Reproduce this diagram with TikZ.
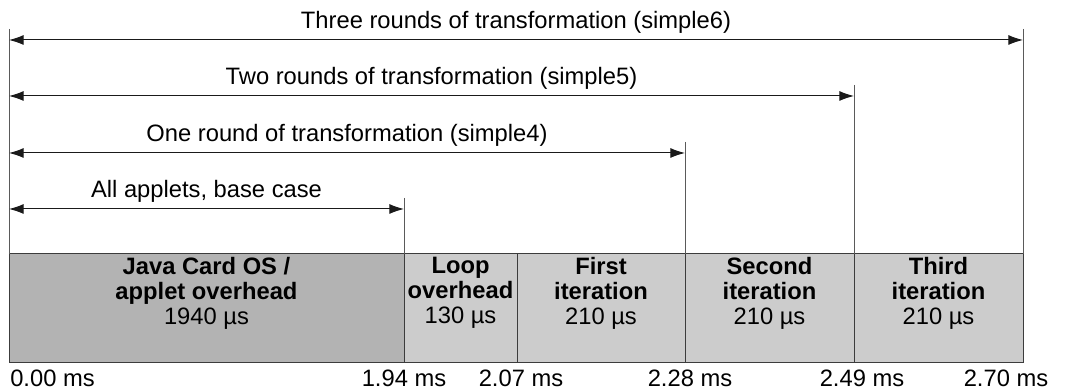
\documentclass[tikz,border=0pt]{standalone}
\usepackage{fontspec}
\setmainfont{Liberation Sans}
\usetikzlibrary{positioning,arrows.meta}
\definecolor{ink}{HTML}{1A1A1A}
\definecolor{osgray}{HTML}{B3B3B3}
\definecolor{itgray}{HTML}{CCCCCC}
\definecolor{rulegray}{HTML}{5A5A5A}
\newcommand{\hd}{\bfseries}

\begin{document}
\begin{tikzpicture}[x=0.75pt, y=0.75pt, font=\fontsize{17.8}{19}\selectfont,
  >={Latex[length=11pt, width=7.5pt]},
  blk/.style={draw=ink!85, fill=#1, minimum height=81.75pt, anchor=south west,
              inner sep=0pt, outer sep=0pt, line width=0.75pt},
  blk/.default=itgray,
  txt/.style={align=center, inner sep=1pt},
  tick/.style={draw=rulegray, line width=0.75pt},
  span/.style={<->, draw=ink, line width=0.75pt},
  lbl/.style={inner sep=0pt, anchor=base}]
\useasboundingbox (0,0) rectangle (1068,391);
% -- time line blocks
\foreach \nm/\xa/\xb/\c in {os/9/404/osgray, loop/404/517/itgray, it1/517/685/itgray,
                            it2/685/854/itgray, it3/854/1023/itgray}
  \node[blk=\c, minimum width={(\xb-\xa)*0.75pt}] (\nm) at (\xa,28) {};
\node[txt, below=1pt of os.north] {{\hd Java Card OS /}\\{\hd applet overhead}\\1940 µs};
\node[txt, below=1pt of loop.north] {{\hd Loop}\\{\hd overhead}\\130 µs};
\node[txt, below=1pt of it1.north] {{\hd First}\\{\hd iteration}\\210 µs};
\node[txt, below=1pt of it2.north] {{\hd Second}\\{\hd iteration}\\210 µs};
\node[txt, below=1pt of it3.north] {{\hd Third}\\{\hd iteration}\\210 µs};
% -- time stamps
\node[lbl, anchor=base west] (s0) at (10,4.5) {0.00 ms};
\foreach \nm/\x/\t in {s1/404/1.94, s2/521/2.07, s3/690/2.28, s4/862/2.49, s5/1006/2.70}
  \node[lbl] (\nm) at (\x,4.5) {\t\ ms};
% -- markers and spans
\foreach \nm/\x/\y in {m0/9/362, m1/404/193, m2/685/249, m3/854/306, m4/1023/362}
  \coordinate (\nm) at (\x,\y);
\foreach \nm in {m0,m1,m2,m3,m4} \draw[tick] (\nm) -- (\nm |- os.north);
\foreach \nm/\y/\t in {m1/182/{All applets, base case},
                       m2/238/{One round of transformation (simple4)},
                       m3/295/{Two rounds of transformation (simple5)},
                       m4/351/{Three rounds of transformation (simple6)}}
  \draw[span] (m0 |- 0,\y) -- node[lbl, yshift=8.8pt] {\t} (\nm |- 0,\y);
\end{tikzpicture}
\end{document}
